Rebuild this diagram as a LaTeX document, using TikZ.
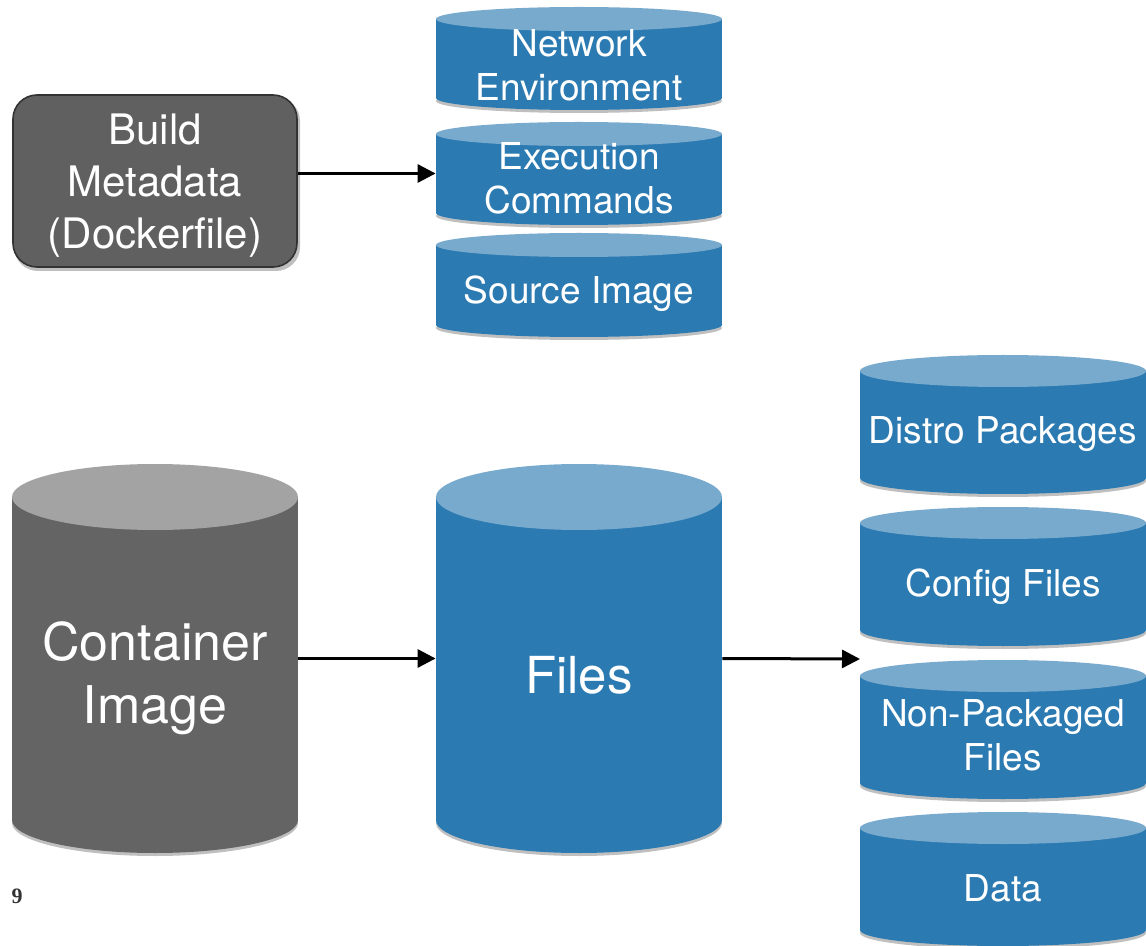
\documentclass[tikz,border=0pt]{standalone}
\usepackage{fontspec}
\setmainfont{TeX Gyre Heros}
\newfontfamily\slidenum{Liberation Serif}
\usetikzlibrary{arrows.meta}

\definecolor{bluebody}{RGB}{43,122,177}
\definecolor{bluetop}{RGB}{120,170,206}
\definecolor{greybody}{RGB}{100,100,100}
\definecolor{greytop}{RGB}{163,163,163}
\definecolor{boxfill}{RGB}{96,96,96}

\newcommand\smallf{\fontsize{18.5}{22}\selectfont}
\newcommand\metaf{\fontsize{21}{26}\selectfont}
\newcommand\contf{\fontsize{26}{31.5}\selectfont}
\newcommand\filesf{\fontsize{25.5}{30}\selectfont}

% #1 name, #2 centre x, #3 top rim y, #4 bottom rim y, #5 rim half height,
% #6 colour set, #7 text y, #8 font, #9 text
\newcommand\drum[9]{%
  \fill[black, opacity=.25] (#2,#4+3) ellipse [x radius=143, y radius=#5];
  \fill[#6body] (#2-143,#3) rectangle (#2+143,#4);
  \fill[#6body] (#2,#4) ellipse [x radius=143, y radius=#5];
  \fill[#6top] (#2,#3) ellipse [x radius=143, y radius=#5];
  \node[body, minimum height={(#4-#3)*0.5pt}] (#1) at (#2,{(#3+#4)/2}) {};
  \node[lbl, font=#8] (#1-txt) at (#2,#7) {#9};
}

\begin{document}
\begin{tikzpicture}[x=0.5pt, y=-0.5pt,
  body/.style={rectangle, minimum width=143pt, inner sep=0pt},
  lbl/.style={text=white, align=center, inner sep=0pt},
  meta/.style={rectangle, rounded corners=12pt, fill=boxfill, draw=black!80,
    line width=0.8pt, minimum width=142pt, minimum height=86pt},
  link/.style={-{Triangle[length=9pt,width=9pt]}, line width=1.5pt}]
\useasboundingbox (0,0) rectangle (1146,946);

% build side
\fill[black, opacity=.25, rounded corners=12pt] (14,97) rectangle (300,271);
\node[meta] (build) at (155,181) {};
\node[lbl, font=\metaf] (build-txt) at (155,186) {Build\\Metadata\\(Dockerfile)};
\drum{net}{579}{19}{98}{12}{blue}{65}{\smallf}{Network\\Environment}
\drum{exec}{579}{134}{213}{12}{blue}{178}{\smallf}{Execution\\Commands}
\drum{src}{579}{245}{325}{12}{blue}{294}{\smallf}{Source Image}

% image side
\drum{cont}{155}{497}{820}{33}{grey}{678}{\contf}{Container\\Image}
\drum{files}{579}{497}{820}{33}{blue}{675}{\filesf}{Files}
\drum{distro}{1003}{371}{478}{16}{blue}{434}{\smallf}{Distro Packages}
\drum{config}{1003}{523}{630}{16}{blue}{587}{\smallf}{Config Files}
\drum{nonpkg}{1003}{676}{783}{16}{blue}{735}{\smallf}{Non-Packaged\\Files}
\drum{data}{1003}{828}{930}{16}{blue}{888}{\smallf}{Data}
\coordinate (stack) at (860,659);

\draw[link] (build.east |- exec) -- (exec.west);
\draw[link] (cont.east) -- (files.west);
\draw[link] (files.east) -- (stack);

\node[font=\slidenum\bfseries\fontsize{11}{13}\selectfont, text=black!80] (pagenum) at (17,896) {9};
\end{tikzpicture}
\end{document}
